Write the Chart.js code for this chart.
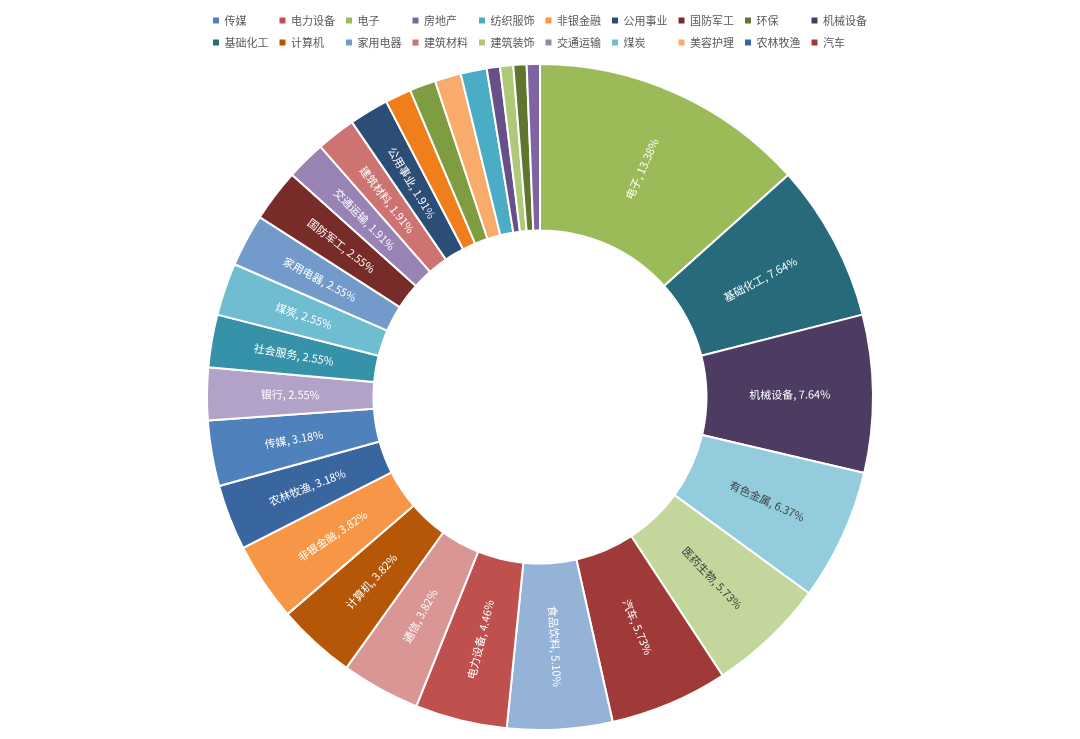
<!DOCTYPE html>
<html>
<head>
<meta charset="utf-8">
<script src="https://cdn.jsdelivr.net/npm/chart.js@4.4.1/dist/chart.umd.min.js"></script>
<style>
  html, body { margin: 0; padding: 0; background: #fff; }
  #wrap { width: 1080px; height: 739px; }
</style>
</head>
<body>
<div id="wrap"><canvas id="chart"></canvas></div>
<script>
// industries in drawing order (clockwise from 12 o'clock)
const categories = ['电子', '基础化工', '机械设备', '有色金属', '医药生物', '汽车', '食品饮料', '电力设备',
  '通信', '计算机', '非银金融', '农林牧渔', '传媒', '银行', '社会服务', '煤炭', '家用电器', '国防军工',
  '交通运输', '建筑材料', '公用事业', '石油石化', '轻工制造', '美容护理', '纺织服饰', '商贸零售',
  '建筑装饰', '环保', '房地产'];
const shares = [13.38, 7.64, 7.64, 6.37, 5.73, 5.73, 5.10, 4.46, 3.82, 3.82, 3.82, 3.18, 3.18,
  2.55, 2.55, 2.55, 2.55, 2.55, 1.91, 1.91, 1.91, 1.27, 1.27, 1.27, 1.27, 0.64, 0.64, 0.64, 0.64];
// legend shows only these, in this order
const legendOrder = ['传媒', '电力设备', '电子', '房地产', '纺织服饰', '非银金融', '公用事业', '国防军工',
  '环保', '机械设备', '基础化工', '计算机', '家用电器', '建筑材料', '建筑装饰', '交通运输', '煤炭',
  '美容护理', '农林牧渔', '汽车'];

const sliceColors = ['#9BBB59', '#276A7C', '#4D3B62', '#93CDDD', '#C3D69B', '#A03A39', '#95B3D7', '#C0504D',
  '#D99694', '#B65708', '#F79646', '#3A66A0', '#4F81BD', '#B3A2C7', '#3592A9', '#6FBDD1', '#729ACA', '#772C2A',
  '#9983B5', '#CD7371', '#2C4D75', '#F07E1A', '#7E9C40', '#F9AB6B', '#4BACC6', '#67508A',
  '#AFC97A', '#5F7530', '#8064A2'];
const darkText = ['有色金属', '医药生物'];

const fontCJK = '"Noto Sans CJK SC", "Noto Sans", sans-serif';

const sliceLabels = {
  id: 'sliceLabels',
  beforeInit(chart) {
    const fit = chart.legend.fit;
    chart.legend.fit = function () {
      fit.call(this);
      this.height += 5;
    };
  },
  afterDatasetsDraw(chart) {
    const ctx = chart.ctx;
    const meta = chart.getDatasetMeta(0);
    ctx.save();
    ctx.font = '11px ' + fontCJK;
    ctx.textAlign = 'center';
    ctx.textBaseline = 'middle';
    meta.data.forEach((arc, i) => {
      if (shares[i] < 1.5) return;
      const p = arc.getProps(['x', 'y', 'startAngle', 'endAngle', 'innerRadius', 'outerRadius'], true);
      const mid = (p.startAngle + p.endAngle) / 2;
      const r = (p.innerRadius + p.outerRadius) / 2;
      const fromTop = mid + Math.PI / 2;
      const rot = fromTop < Math.PI ? mid : mid + Math.PI;
      ctx.save();
      ctx.translate(p.x + Math.cos(mid) * r, p.y + Math.sin(mid) * r);
      ctx.rotate(rot);
      ctx.fillStyle = darkText.includes(categories[i]) ? '#404040' : '#ffffff';
      ctx.fillText(categories[i] + ', ' + shares[i].toFixed(2) + '%', 0, 0);
      ctx.restore();
    });
    ctx.restore();
  }
};

new Chart(document.getElementById('chart'), {
  type: 'doughnut',
  data: {
    labels: categories,
    datasets: [{
      data: shares,
      backgroundColor: sliceColors,
      borderColor: '#ffffff',
      borderWidth: 2
    }]
  },
  options: {
    responsive: true,
    maintainAspectRatio: false,
    animation: false,
    cutout: '50%',
    layout: { padding: { top: 4, left: 190, right: 190, bottom: 8 } },
    plugins: {
      tooltip: { enabled: false },
      legend: {
        position: 'top',
        labels: {
          boxWidth: 6,
          boxHeight: 6,
          padding: 11,
          color: '#595959',
          font: { size: 11, family: fontCJK },
          generateLabels(chart) {
            const items = Chart.overrides.doughnut.plugins.legend.labels.generateLabels(chart);
            return items
              .filter(it => legendOrder.includes(it.text))
              .sort((a, b) => legendOrder.indexOf(a.text) - legendOrder.indexOf(b.text))
              .map(it => Object.assign(it, {
                text: it.text.padEnd(4, '\u3000'),
                strokeStyle: it.fillStyle,
                lineWidth: 0
              }));
          }
        }
      }
    }
  },
  plugins: [sliceLabels]
});
</script>
</body>
</html>
